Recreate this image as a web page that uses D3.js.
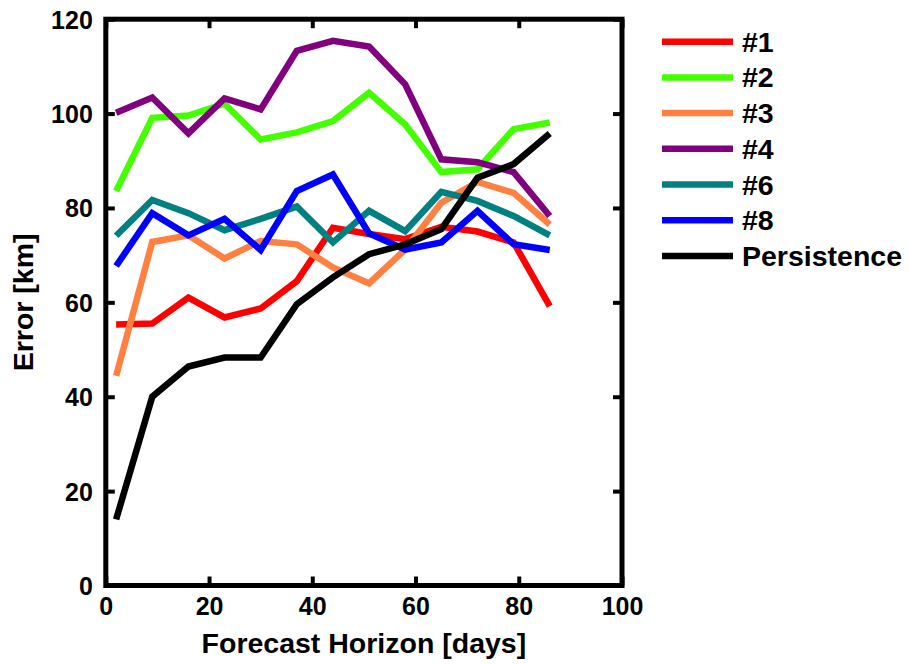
<!DOCTYPE html>
<html>
<head>
<meta charset="utf-8">
<script src="https://cdn.jsdelivr.net/npm/d3@7"></script>
<style>
  html, body { margin: 0; padding: 0; background: #fff; }
  svg { display: block; }
  text { font-family: "Liberation Sans", Arial, Helvetica, sans-serif; font-weight: bold; fill: #000; }
</style>
</head>
<body>
<svg id="chart" width="909" height="664"></svg>
<script>
// ---- data ----
const days = [2, 9, 16, 23, 30, 37, 44, 51, 58, 65, 72, 79, 86];
const seriesNames = ["#1", "#2", "#3", "#4", "#6", "#8", "Persistence"];
const seriesColors = ["#ff0000", "#44ff00", "#ff8040", "#800080", "#008080", "#0000ff", "#000000"];
const s1 = [55.3, 55.5, 61.0, 56.8, 58.7, 64.5, 75.8, 74.5, 73.4, 76.0, 75.0, 72.7, 59.2];
const s2 = [83.6, 99.1, 99.6, 102.1, 94.5, 96.0, 98.4, 104.4, 97.7, 87.6, 88.2, 96.7, 98.1];
const s3 = [44.4, 72.8, 74.2, 69.3, 73.0, 72.3, 67.4, 64.0, 71.2, 81.1, 85.5, 83.2, 76.5];
const s4 = [100.2, 103.4, 95.8, 103.2, 100.9, 113.3, 115.4, 114.2, 106.2, 90.3, 89.7, 87.6, 78.3];
const s6 = [74.1, 81.7, 78.9, 75.3, 77.7, 80.3, 72.7, 79.4, 75.1, 83.4, 81.5, 78.3, 74.2];
const s8 = [67.7, 78.9, 74.2, 77.7, 71.1, 83.6, 87.1, 74.6, 71.2, 72.7, 79.4, 72.3, 71.1];
const persistence = [14.0, 40.0, 46.4, 48.3, 48.3, 59.6, 65.3, 70.2, 72.3, 75.5, 86.4, 89.3, 95.8];
const xTicks = [0, 20, 40, 60, 80, 100];
const yTicks = [0, 20, 40, 60, 80, 100, 120];
const xLabel = "Forecast Horizon [days]";
const yLabel = "Error [km]";

const allSeries = [s1, s2, s3, s4, s6, s8, persistence];

// ---- layout ----
const L = 105.8, R = 622, T = 19.2, B = 585.5;
const svg = d3.select("#chart");
const x = d3.scaleLinear().domain([0, 100]).range([L, R]);
const y = d3.scaleLinear().domain([0, 120]).range([B, T]);

// lines
const line = d3.line().x((d, i) => x(days[i])).y(d => y(d));
allSeries.forEach((vals, k) => {
  svg.append("path")
    .datum(vals)
    .attr("d", line)
    .attr("fill", "none")
    .attr("stroke", seriesColors[k])
    .attr("stroke-width", 6.5)
    .attr("stroke-linejoin", "miter")
    .attr("stroke-linecap", "butt");
});

// axes (ticks inward, on all sides)
const tickLen = 9;
const axG = svg.append("g");
axG.append("g").attr("transform", `translate(0,${B})`)
  .call(d3.axisBottom(x).tickValues(xTicks).tickSizeInner(-tickLen).tickSizeOuter(0).tickPadding(14))
  .call(g => { g.select(".domain").remove(); g.selectAll("text").attr("font-size", 25).attr("dy", "0.6em"); });
axG.append("g").attr("transform", `translate(0,${T})`)
  .call(d3.axisTop(x).tickValues(xTicks).tickSizeInner(-tickLen).tickSizeOuter(0).tickFormat(""))
  .call(g => g.select(".domain").remove());
axG.append("g").attr("transform", `translate(${L},0)`)
  .call(d3.axisLeft(y).tickValues(yTicks).tickSizeInner(-tickLen).tickSizeOuter(0).tickPadding(13))
  .call(g => { g.select(".domain").remove(); g.selectAll("text").attr("font-size", 25).attr("dy", "0.36em"); });
axG.append("g").attr("transform", `translate(${R},0)`)
  .call(d3.axisRight(y).tickValues(yTicks).tickSizeInner(-tickLen).tickSizeOuter(0).tickFormat(""))
  .call(g => g.select(".domain").remove());
axG.selectAll(".tick line").attr("stroke", "#000").attr("stroke-width", 4);
axG.selectAll("text").attr("font-family", null).attr("fill", "#000");

// frame
svg.append("rect")
  .attr("x", L).attr("y", T).attr("width", R - L).attr("height", B - T)
  .attr("fill", "none").attr("stroke", "#000").attr("stroke-width", 5);

// axis titles
svg.append("text")
  .attr("x", (L + R) / 2).attr("y", 653)
  .attr("text-anchor", "middle").attr("font-size", 28.5)
  .text(xLabel);
svg.append("text")
  .attr("transform", `translate(33,${(T + B) / 2}) rotate(-90)`)
  .attr("text-anchor", "middle").attr("font-size", 28.5)
  .text(yLabel);

// legend
const lg = svg.append("g");
seriesNames.forEach((name, k) => {
  const yy = 41.7 + k * 35.7;
  lg.append("line").attr("x1", 662).attr("x2", 733).attr("y1", yy).attr("y2", yy)
    .attr("stroke", seriesColors[k]).attr("stroke-width", 6.5);
  lg.append("text").attr("x", 742).attr("y", yy + 10).attr("font-size", 28.5).text(name);
});
</script>
</body>
</html>
